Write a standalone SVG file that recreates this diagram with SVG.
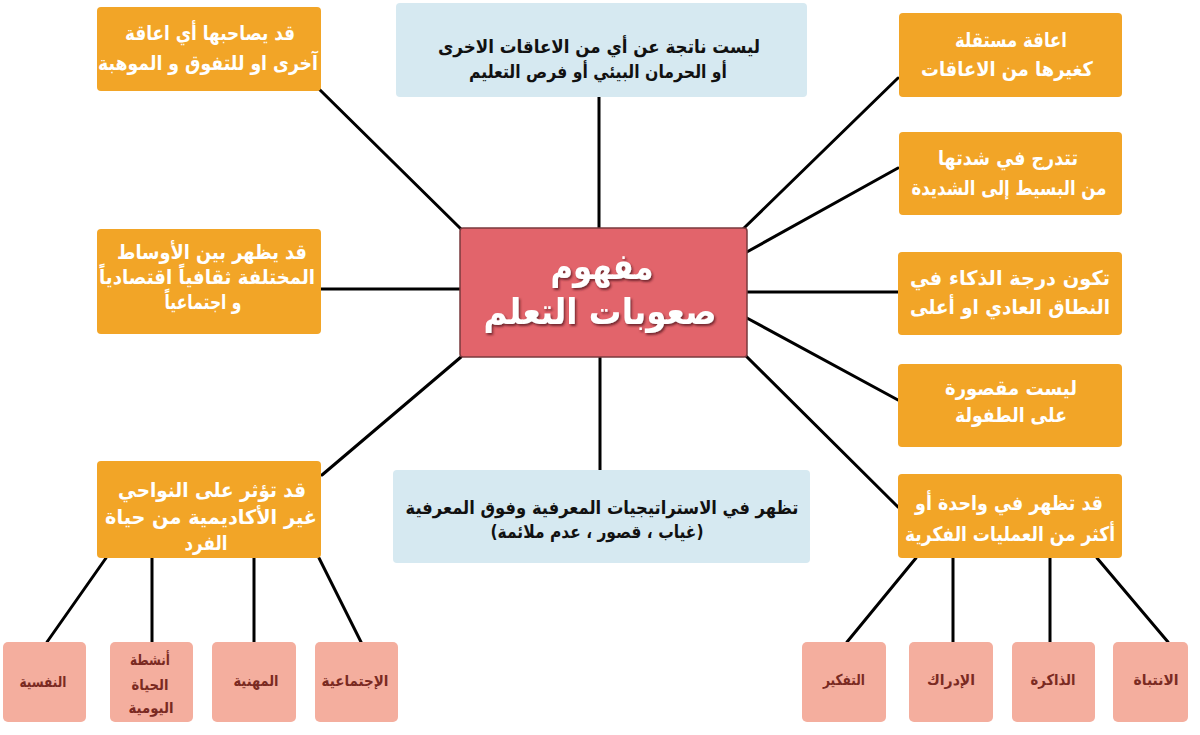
<svg xmlns="http://www.w3.org/2000/svg" width="1200" height="735" viewBox="0 0 1200 735">
<defs>
<style>
.o{fill:#F2A527;}
.b{fill:#D6E9F1;}
.p{fill:#F4AE9E;}
.c{fill:#E2646B;stroke:#7A3A3E;stroke-width:1.5;}
.tw{font-family:"DejaVu Sans",sans-serif;font-weight:bold;font-size:20px;fill:#FFFFFF;text-anchor:middle;direction:rtl;}
.tb{font-family:"DejaVu Sans",sans-serif;font-weight:bold;font-size:18px;fill:#111111;text-anchor:middle;direction:rtl;}
.tp{font-family:"DejaVu Sans",sans-serif;font-weight:bold;font-size:15px;fill:#7A2A22;text-anchor:middle;direction:rtl;}
.tc{font-family:"DejaVu Sans",sans-serif;font-weight:bold;font-size:36px;fill:#FFFFFF;text-anchor:middle;direction:rtl;}
.ln{stroke:#000;stroke-width:3;fill:none;stroke-linecap:round;}
</style>
<filter id="sh" x="-20%" y="-20%" width="140%" height="140%">
<feDropShadow dx="1.5" dy="2" stdDeviation="1" flood-color="#5a1f24" flood-opacity="0.8"/>
</filter>
</defs>
<rect width="1200" height="735" fill="#FFFFFF"/>
<g id="connectors">
<line class="ln" x1="318" y1="88" x2="461" y2="229"/>
<line class="ln" x1="599" y1="97" x2="599" y2="228"/>
<line class="ln" x1="743" y1="229" x2="898" y2="78"/>
<line class="ln" x1="745" y1="253" x2="898" y2="168"/>
<line class="ln" x1="321" y1="289" x2="460" y2="289"/>
<line class="ln" x1="747" y1="292" x2="898" y2="292"/>
<line class="ln" x1="745" y1="317" x2="898" y2="400"/>
<line class="ln" x1="322" y1="475" x2="461" y2="357"/>
<line class="ln" x1="745" y1="355" x2="898" y2="507"/>
<line class="ln" x1="600" y1="357" x2="600" y2="470"/>
<line class="ln" x1="106" y1="558" x2="47" y2="642"/>
<line class="ln" x1="152" y1="558" x2="152" y2="642"/>
<line class="ln" x1="254" y1="558" x2="254" y2="642"/>
<line class="ln" x1="319" y1="558" x2="361" y2="642"/>
<line class="ln" x1="916" y1="558" x2="847" y2="642"/>
<line class="ln" x1="953" y1="558" x2="953" y2="642"/>
<line class="ln" x1="1050" y1="558" x2="1050" y2="642"/>
<line class="ln" x1="1097" y1="558" x2="1168" y2="642"/>
</g>
<g id="n-top-left">
<rect class="o" x="97" y="7" width="224" height="84" rx="4"/>
<text class="tw" x="210" y="40" textLength="170" lengthAdjust="spacingAndGlyphs">قد يصاحبها أي اعاقة</text>
<text class="tw" x="208" y="70" textLength="220" lengthAdjust="spacingAndGlyphs">آخرى او للتفوق و الموهبة</text>
</g>
<g id="n-top-center">
<rect class="b" x="396" y="3" width="411" height="94" rx="4"/>
<text class="tb" x="599" y="53" textLength="322" lengthAdjust="spacingAndGlyphs">ليست ناتجة عن أي من الاعاقات الاخرى</text>
<text class="tb" x="598" y="78" textLength="258" lengthAdjust="spacingAndGlyphs">أو الحرمان البيئي أو فرص التعليم</text>
</g>
<g id="n-right-1">
<rect class="o" x="899" y="13" width="223" height="84" rx="4"/>
<text class="tw" x="1011" y="47" textLength="112" lengthAdjust="spacingAndGlyphs">اعاقة مستقلة</text>
<text class="tw" x="1007" y="76" textLength="172" lengthAdjust="spacingAndGlyphs">كغيرها من الاعاقات</text>
</g>
<g id="n-right-2">
<rect class="o" x="899" y="132" width="223" height="83" rx="4"/>
<text class="tw" x="1008" y="165" textLength="140" lengthAdjust="spacingAndGlyphs">تتدرج في شدتها</text>
<text class="tw" x="1009" y="195" textLength="195" lengthAdjust="spacingAndGlyphs">من البسيط إلى الشديدة</text>
</g>
<g id="n-left-mid">
<rect class="o" x="97" y="229" width="224" height="105" rx="4"/>
<text class="tw" x="212" y="259" textLength="190" lengthAdjust="spacingAndGlyphs">قد يظهر بين الأوساط</text>
<text class="tw" x="207" y="284" textLength="216" lengthAdjust="spacingAndGlyphs">المختلفة ثقافياً اقتصادياً</text>
<text class="tw" x="203" y="309" textLength="77" lengthAdjust="spacingAndGlyphs">و اجتماعياً</text>
</g>
<g id="n-center">
<rect class="c" x="460" y="228" width="287" height="129" rx="3"/>
<text class="tc" x="602" y="279" filter="url(#sh)" textLength="103" lengthAdjust="spacingAndGlyphs">مفهوم</text>
<text class="tc" x="600" y="324" filter="url(#sh)" textLength="233" lengthAdjust="spacingAndGlyphs">صعوبات التعلم</text>
</g>
<g id="n-right-3">
<rect class="o" x="898" y="252" width="224" height="83" rx="4"/>
<text class="tw" x="1010" y="285" textLength="200" lengthAdjust="spacingAndGlyphs">تكون درجة الذكاء في</text>
<text class="tw" x="1010" y="314" textLength="200" lengthAdjust="spacingAndGlyphs">النطاق العادي او أعلى</text>
</g>
<g id="n-right-4">
<rect class="o" x="898" y="364" width="224" height="83" rx="4"/>
<text class="tw" x="1011" y="395" textLength="132" lengthAdjust="spacingAndGlyphs">ليست مقصورة</text>
<text class="tw" x="1011" y="422" textLength="112" lengthAdjust="spacingAndGlyphs">على الطفولة</text>
</g>
<g id="n-left-bottom">
<rect class="o" x="97" y="461" width="224" height="97" rx="4"/>
<text class="tw" x="212" y="497" textLength="188" lengthAdjust="spacingAndGlyphs">قد تؤثر على النواحي</text>
<text class="tw" x="211" y="524" textLength="212" lengthAdjust="spacingAndGlyphs">غير الأكاديمية من حياة</text>
<text class="tw" x="206" y="550" textLength="43" lengthAdjust="spacingAndGlyphs">الفرد</text>
</g>
<g id="n-bottom-center">
<rect class="b" x="393" y="470" width="417" height="93" rx="4"/>
<text class="tb" x="602" y="514" textLength="393" lengthAdjust="spacingAndGlyphs">تظهر في الاستراتيجيات المعرفية وفوق المعرفية</text>
<text class="tb" x="597" y="538" textLength="213" lengthAdjust="spacingAndGlyphs">(غياب ، قصور ، عدم ملائمة)</text>
</g>
<g id="n-right-5">
<rect class="o" x="898" y="474" width="224" height="84" rx="4"/>
<text class="tw" x="1009" y="510" textLength="188" lengthAdjust="spacingAndGlyphs">قد تظهر في واحدة أو</text>
<text class="tw" x="1010" y="541" textLength="210" lengthAdjust="spacingAndGlyphs">أكثر من العمليات الفكرية</text>
</g>
<g id="n-p-nafsiya">
<rect class="p" x="3" y="642" width="83" height="80" rx="5"/>
<text class="tp" x="43" y="687" textLength="47" lengthAdjust="spacingAndGlyphs">النفسية</text>
</g>
<g id="n-p-anshita">
<rect class="p" x="110" y="642" width="83" height="80" rx="5"/>
<text class="tp" x="150" y="665" textLength="40" lengthAdjust="spacingAndGlyphs">أنشطة</text>
<text class="tp" x="150" y="690" textLength="37" lengthAdjust="spacingAndGlyphs">الحياة</text>
<text class="tp" x="151" y="713" textLength="45" lengthAdjust="spacingAndGlyphs">اليومية</text>
</g>
<g id="n-p-mihniya">
<rect class="p" x="212" y="642" width="84" height="80" rx="5"/>
<text class="tp" x="256" y="686" textLength="45" lengthAdjust="spacingAndGlyphs">المهنية</text>
</g>
<g id="n-p-ijtimaiya">
<rect class="p" x="315" y="642" width="83" height="80" rx="5"/>
<text class="tp" x="355" y="686" textLength="67" lengthAdjust="spacingAndGlyphs">الإجتماعية</text>
</g>
<g id="n-p-tafkir">
<rect class="p" x="802" y="642" width="84" height="80" rx="5"/>
<text class="tp" x="844" y="685" textLength="42" lengthAdjust="spacingAndGlyphs">التفكير</text>
</g>
<g id="n-p-idrak">
<rect class="p" x="909" y="642" width="84" height="80" rx="5"/>
<text class="tp" x="951" y="685" textLength="48" lengthAdjust="spacingAndGlyphs">الإدراك</text>
</g>
<g id="n-p-dhakira">
<rect class="p" x="1012" y="642" width="83" height="80" rx="5"/>
<text class="tp" x="1053" y="685" textLength="45" lengthAdjust="spacingAndGlyphs">الذاكرة</text>
</g>
<g id="n-p-intibah">
<rect class="p" x="1113" y="642" width="75" height="80" rx="5"/>
<text class="tp" x="1156" y="685" textLength="45" lengthAdjust="spacingAndGlyphs">الانتباة</text>
</g>
</svg>
